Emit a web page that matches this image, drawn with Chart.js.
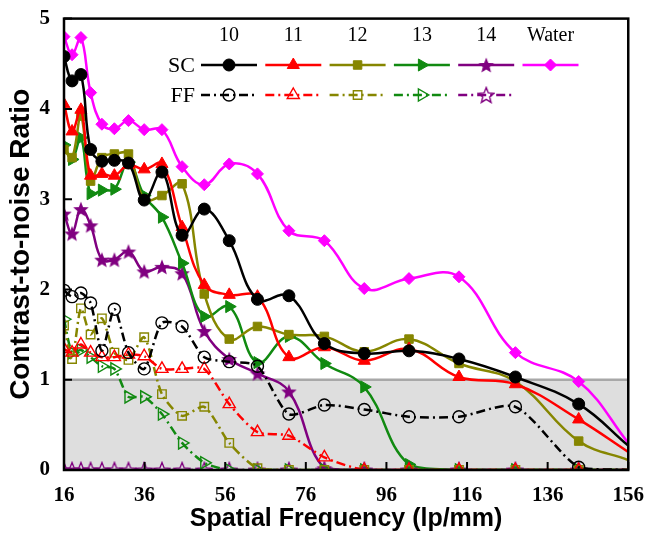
<!DOCTYPE html>
<html>
<head>
<meta charset="utf-8">
<script src="https://cdn.jsdelivr.net/npm/chart.js@4.4.1/dist/chart.umd.min.js"></script>
<style>
  html, body { margin: 0; padding: 0; background: #fff; }
  #wrap { width: 649px; height: 537px; }
</style>
</head>
<body>
<div id="wrap"><canvas id="cnr" width="649" height="537"></canvas></div>
<script>
// sampled frequencies; the last one (156) is only where the fitted curve leaves the frame
const freqs = [16, 18, 20.2, 22.6, 25.4, 28.5, 32, 35.9, 40.3, 45.3, 50.8, 57, 64, 71.8, 80.6, 90.5, 101.6, 114, 128, 143.7, 156];
const xTicks = [16, 36, 56, 76, 96, 116, 136, 156];
const yTicks = [0, 1, 2, 3, 4, 5];
const columns = ['10', '11', '12', '13', '14', 'Water'];

const sc10 = [4.58, 4.31, 4.38, 3.55, 3.42, 3.43, 3.4, 2.99, 3.3, 2.6, 2.89, 2.54, 1.89, 1.93, 1.4, 1.29, 1.32, 1.23, 1.03, 0.73, 0.27];
const sc11 = [4.05, 3.75, 3.99, 3.26, 3.28, 3.26, 3.38, 3.33, 3.39, 2.69, 2.05, 1.94, 1.92, 1.25, 1.36, 1.21, 1.34, 1.03, 0.95, 0.56, 0.2];
const sc12 = [3.55, 3.46, 3.92, 3.2, 3.46, 3.5, 3.5, 3.0, 3.04, 3.17, 1.95, 1.45, 1.59, 1.5, 1.48, 1.31, 1.45, 1.18, 0.98, 0.32, 0.11];
const sc13 = [3.6, 3.44, 3.68, 3.06, 3.1, 3.11, 3.41, 3.04, 2.8, 2.29, 1.7, 1.81, 1.19, 1.48, 1.18, 0.92, 0.06, 0, 0, 0, 0];
const sc14 = [2.84, 2.62, 2.89, 2.71, 2.33, 2.33, 2.42, 2.2, 2.25, 2.18, 1.54, 1.23, 1.07, 0.87, 0.02, 0, 0, 0, 0, 0, 0];
const water = [4.8, 4.6, 4.79, 4.18, 3.83, 3.78, 3.87, 3.77, 3.77, 3.36, 3.16, 3.39, 3.28, 2.65, 2.54, 2.01, 2.12, 2.14, 1.3, 0.98, 0.3];

const ff10 = [1.99, 1.92, 1.96, 1.85, 1.32, 1.78, 1.3, 1.12, 1.63, 1.59, 1.25, 1.2, 1.15, 0.62, 0.72, 0.67, 0.59, 0.59, 0.7, 0.03, 0];
const ff11 = [1.34, 1.3, 1.39, 1.3, 1.25, 1.25, 1.28, 1.26, 1.12, 1.12, 1.12, 0.73, 0.42, 0.38, 0.14, 0, 0, 0, 0, 0, 0];
const ff12 = [1.6, 1.23, 1.79, 1.5, 1.68, 1.3, 1.22, 1.47, 0.84, 0.6, 0.7, 0.3, 0.02, 0, 0, 0, 0, 0, 0, 0, 0];
const ff13 = [1.67, 1.3, 1.33, 1.25, 1.15, 1.12, 0.81, 0.81, 0.62, 0.3, 0.08, 0, 0, 0, 0, 0, 0, 0, 0, 0, 0];
const ff14 = [0, 0, 0, 0, 0, 0, 0, 0, 0, 0, 0, 0, 0, 0, 0, 0, 0, 0, 0, 0, 0];

const BLACK = '#000000', RED = '#ff0000', OLIVE = '#868600', GREEN = '#118a11', PURPLE = '#800080', MAGENTA = '#ff00ff';
const SERIF = '"Liberation Serif", "Times New Roman", serif';
const SANS = '"Liberation Sans", Arial, sans-serif';

function makeStar(color, filled) {
    const c = document.createElement('canvas');
    c.width = 18; c.height = 18;
    const g = c.getContext('2d');
    g.beginPath();
    for (let i = 0; i < 10; i++) {
        const r = i % 2 ? 3.6 : 8.2;
        const a = -Math.PI / 2 + i * Math.PI / 5;
        g.lineTo(9 + r * Math.cos(a), 9.8 + r * Math.sin(a));
    }
    g.closePath();
    if (filled) { g.fillStyle = color; g.fill(); }
    else { g.strokeStyle = color; g.lineWidth = 1.4; g.stroke(); }
    return c;
}

function series(values, color, style, rotation, filled, dashed) {
    const last = freqs.length - 1;
    const big = style === 'triangle' ? 7 : 6;
    return {
        data: values.map((v, i) => ({ x: freqs[i], y: v })),
        borderColor: color,
        backgroundColor: color,
        pointBackgroundColor: filled ? color : 'rgba(0,0,0,0)',
        pointBorderColor: color,
        pointBorderWidth: filled ? 1 : 1.4,
        pointStyle: style,
        pointRotation: rotation,
        pointRadius: ctx => ctx.dataIndex === last ? 0 : big,
        borderWidth: 2.5,
        borderDash: dashed ? [9, 4, 2, 4] : [],
        tension: dashed ? 0.25 : 0.4,
        fill: false
    };
}

const scSets = [
    series(sc10, BLACK, 'circle', 0, true, false),
    series(sc11, RED, 'triangle', 0, true, false),
    series(sc12, OLIVE, 'rect', 0, true, false),
    series(sc13, GREEN, 'triangle', 90, true, false),
    series(sc14, PURPLE, makeStar(PURPLE, true), 0, true, false),
    series(water, MAGENTA, 'rectRot', 0, true, false)
];
const ffSets = [
    series(ff10, BLACK, 'circle', 0, false, true),
    series(ff11, RED, 'triangle', 0, false, true),
    series(ff12, OLIVE, 'rect', 0, false, true),
    series(ff13, GREEN, 'triangle', 90, false, true),
    series(ff14, PURPLE, makeStar(PURPLE, false), 0, false, true)
];

// grey band below CNR = 1
const bandPlugin = {
    id: 'band',
    beforeDatasetsDraw(chart) {
        const { ctx, chartArea: a, scales: { y } } = chart;
        const y1 = y.getPixelForValue(1);
        ctx.save();
        ctx.fillStyle = '#dedede';
        ctx.fillRect(a.left, y1, a.right - a.left, a.bottom - y1);
        ctx.strokeStyle = '#a8a8a8';
        ctx.lineWidth = 2.5;
        ctx.beginPath();
        ctx.moveTo(a.left, y1);
        ctx.lineTo(a.right, y1);
        ctx.stroke();
        ctx.restore();
    }
};

// frame, inward ticks and the SC/FF key
const framePlugin = {
    id: 'frame',
    afterDraw(chart) {
        const { ctx, chartArea: a, scales: { x, y } } = chart;
        ctx.save();
        ctx.strokeStyle = '#000';
        ctx.lineWidth = 2;
        ctx.setLineDash([]);
        ctx.beginPath();
        xTicks.forEach(v => {
            const px = x.getPixelForValue(v);
            ctx.moveTo(px, a.bottom);
            ctx.lineTo(px, a.bottom - 8);
        });
        yTicks.forEach(v => {
            const py = y.getPixelForValue(v);
            ctx.moveTo(a.left, py);
            ctx.lineTo(a.left + 8, py);
        });
        ctx.stroke();
        ctx.lineWidth = 2.5;
        ctx.strokeRect(a.left, a.top, a.right - a.left, a.bottom - a.top);

        // key
        const x0 = 229, step = 64.3, rowSC = 65, rowFF = 95;
        ctx.fillStyle = '#000';
        ctx.font = '20px ' + SERIF;
        ctx.textAlign = 'center';
        ctx.textBaseline = 'middle';
        columns.forEach((c, i) => ctx.fillText(c, x0 + i * step, 36));
        ctx.font = '22px ' + SERIF;
        ctx.textAlign = 'right';
        ctx.fillText('SC', 195, rowSC + 1);
        ctx.fillText('FF', 195, rowFF + 1);

        const drawKey = (ds, cx, cy) => {
            ctx.strokeStyle = ds.borderColor;
            ctx.lineWidth = 2.5;
            ctx.setLineDash(ds.borderDash);
            ctx.beginPath();
            ctx.moveTo(cx - 28, cy);
            ctx.lineTo(cx + 28, cy);
            ctx.stroke();
            ctx.setLineDash([]);
            ctx.fillStyle = ds.pointBackgroundColor;
            ctx.strokeStyle = ds.pointBorderColor;
            ctx.lineWidth = ds.pointBorderWidth;
            Chart.helpers.drawPoint(ctx, {
                pointStyle: ds.pointStyle,
                rotation: ds.pointRotation,
                radius: ds.pointStyle === 'triangle' ? 7 : 6,
                borderWidth: ds.pointBorderWidth
            }, cx, cy);
        };
        scSets.forEach((ds, i) => drawKey(ds, x0 + i * step, rowSC));
        ffSets.forEach((ds, i) => drawKey(ds, x0 + i * step, rowFF));
        ctx.restore();
    }
};

new Chart(document.getElementById('cnr'), {
    type: 'line',
    data: { datasets: [...ffSets, ...scSets] },
    options: {
        responsive: false,
        animation: false,
        devicePixelRatio: 1,
        layout: { padding: { top: 15, right: 18, left: 0, bottom: 0 } },
        plugins: { legend: { display: false }, tooltip: { enabled: false } },
        scales: {
            x: {
                type: 'linear',
                min: 16,
                max: 156,
                afterBuildTicks: s => { s.ticks = xTicks.map(v => ({ value: v })); },
                afterFit: s => { s.height = 67; },
                grid: { display: false },
                border: { display: false },
                ticks: { color: '#000', padding: 5, maxRotation: 0, font: { family: SERIF, size: 21, weight: 'bold' } },
                title: {
                    display: true,
                    text: 'Spatial Frequency (lp/mm)',
                    color: '#000',
                    padding: { top: 0, bottom: 3 },
                    font: { family: SANS, size: 25, weight: 'bold' }
                }
            },
            y: {
                min: 0,
                max: 5,
                afterBuildTicks: s => { s.ticks = yTicks.map(v => ({ value: v })); },
                afterFit: s => { s.width = 64; },
                grid: { display: false },
                border: { display: false },
                ticks: { color: '#000', padding: 6, font: { family: SERIF, size: 21, weight: 'bold' } },
                title: {
                    display: true,
                    text: 'Contrast-to-noise Ratio',
                    color: '#000',
                    padding: { top: 4, bottom: 0 },
                    font: { family: SANS, size: 28, weight: 'bold' }
                }
            }
        }
    },
    plugins: [bandPlugin, framePlugin]
});
</script>
</body>
</html>
